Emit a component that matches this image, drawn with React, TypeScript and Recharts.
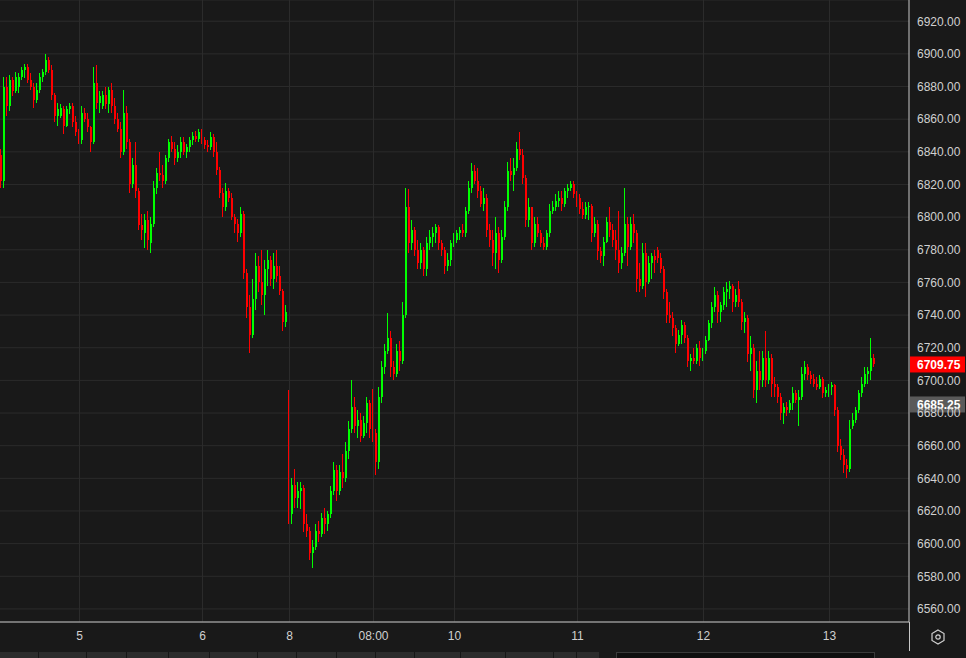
import React from 'react';
import { ComposedChart, Bar, XAxis, YAxis, CartesianGrid, ReferenceLine } from 'recharts';

type C = [number, number, number, number]; // open, high, low, close

const day4: C[] = [
  [6838,6842,6818,6822],[6822,6886,6818,6880],[6880,6886,6862,6868],[6868,6887,6865,6884],[6884,6886,6874,6877],
  [6877,6889,6876,6886],[6880,6888,6876,6886],[6886,6892,6884,6890],[6890,6894,6885,6892],[6892,6894,6882,6884],
  [6884,6888,6878,6880],[6880,6882,6867,6872],[6872,6882,6870,6878],[6878,6888,6876,6886],[6886,6891,6883,6889],
  [6889,6900,6887,6896],[6896,6898,6888,6890],[6890,6893,6872,6875],[6875,6876,6858,6862],[6862,6870,6856,6866],
  [6862,6869,6861,6867],[6866,6868,6851,6856],[6856,6868,6855,6866],[6866,6870,6863,6868],[6868,6870,6855,6858],
  [6858,6862,6850,6852],
];
const day5: C[] = [
  [6852,6854,6845,6847],[6847,6868,6845,6864],[6864,6867,6858,6860],[6860,6864,6852,6855],[6855,6856,6840,6846],
  [6846,6892,6845,6882],[6882,6893,6866,6870],[6870,6877,6864,6874],[6868,6877,6866,6875],[6875,6880,6866,6869],
  [6869,6880,6864,6878],[6878,6882,6864,6868],[6868,6873,6857,6860],[6860,6864,6852,6854],[6854,6858,6836,6840],
  [6840,6878,6838,6864],[6864,6868,6842,6846],[6846,6848,6815,6820],[6820,6836,6818,6832],[6832,6846,6812,6816],
  [6816,6818,6792,6795],[6795,6802,6786,6792],[6790,6802,6781,6798],[6798,6804,6780,6786],[6784,6800,6778,6796],
  [6796,6822,6794,6818],[6818,6830,6814,6827],[6827,6840,6822,6826],[6826,6832,6818,6822],[6822,6838,6820,6836],
  [6836,6848,6834,6846],[6846,6850,6840,6842],[6842,6846,6832,6836],[6836,6844,6834,6840],[6840,6849,6836,6846],
  [6846,6849,6838,6840],[6840,6845,6836,6843],[6843,6849,6840,6847],[6847,6852,6844,6850],[6850,6853,6846,6848],
  [6848,6854,6846,6852],
];
const day6: C[] = [
  [6852,6854,6845,6847],[6847,6849,6842,6844],[6844,6847,6840,6843],[6843,6852,6841,6849],[6849,6851,6837,6840],
  [6840,6846,6826,6829],[6829,6831,6812,6815],[6815,6818,6800,6806],[6806,6821,6804,6816],[6816,6818,6809,6812],
  [6812,6815,6798,6800],[6800,6802,6790,6796],[6796,6799,6785,6790],[6790,6806,6788,6802],[6802,6804,6762,6766],
  [6766,6768,6738,6745],[6745,6752,6717,6728],[6728,6762,6726,6750],[6750,6778,6743,6770],[6770,6776,6754,6760],
  [6760,6780,6746,6752],[6752,6774,6740,6768],[6768,6780,6758,6774],[6774,6776,6758,6762],[6762,6778,6756,6770],
  [6770,6780,6760,6764],[6764,6770,6752,6755],[6755,6756,6730,6736],[6736,6746,6733,6742],
];
const day8: C[] = [
  [6692,6694,6612,6618],[6618,6640,6612,6636],[6636,6646,6622,6628],[6628,6638,6622,6632],[6632,6638,6621,6634],
  [6634,6636,6607,6612],[6612,6618,6604,6608],[6608,6610,6590,6594],[6594,6602,6585,6598],[6598,6612,6596,6608],
  [6608,6614,6601,6606],[6606,6619,6604,6616],[6616,6622,6606,6612],[6612,6620,6608,6618],[6618,6635,6616,6632],
  [6632,6650,6630,6645],[6645,6648,6626,6632],[6632,6648,6630,6644],[6644,6655,6634,6640],[6640,6662,6638,6657],
  [6657,6675,6652,6670],[6670,6700,6668,6684],[6684,6690,6668,6672],[6672,6682,6665,6676],[6676,6680,6662,6666],
  [6666,6678,6665,6674],[6674,6690,6668,6686],[6686,6688,6665,6670],
];
const day8Morning: C[] = [
  [6670,6695,6662,6668],[6668,6670,6642,6650],[6650,6696,6646,6690],[6690,6712,6686,6708],[6708,6722,6704,6718],
  [6718,6741,6716,6726],[6726,6730,6702,6708],[6708,6712,6700,6704],[6704,6722,6702,6718],[6718,6724,6706,6712],
  [6712,6748,6710,6740],[6740,6818,6738,6806],[6806,6817,6778,6784],[6784,6798,6780,6792],[6792,6794,6776,6780],
  [6780,6786,6768,6772],[6772,6784,6768,6780],[6780,6782,6764,6768],[6768,6788,6764,6784],[6784,6792,6780,6788],
  [6788,6794,6782,6790],[6790,6796,6784,6794],[6794,6795,6780,6784],[6784,6786,6776,6780],[6780,6782,6765,6770],
  [6770,6778,6767,6774],[6774,6786,6770,6784],
];
const day10: C[] = [
  [6784,6790,6782,6786],[6786,6792,6784,6790],[6790,6794,6786,6792],[6792,6796,6788,6790],[6790,6806,6788,6804],
  [6804,6822,6802,6818],[6818,6833,6815,6828],[6828,6832,6820,6822],[6822,6830,6812,6816],[6816,6819,6806,6808],
  [6808,6818,6804,6812],[6812,6814,6788,6792],[6792,6796,6782,6786],[6786,6792,6770,6778],[6778,6800,6768,6790],
  [6790,6794,6766,6774],[6774,6792,6772,6788],[6788,6810,6786,6806],[6806,6834,6804,6828],[6828,6836,6822,6826],
  [6826,6836,6816,6830],[6830,6846,6828,6842],[6842,6852,6835,6838],[6838,6842,6820,6824],[6824,6826,6794,6798],
  [6798,6812,6794,6806],[6806,6806,6780,6784],[6784,6800,6782,6796],[6796,6800,6788,6790],[6790,6792,6782,6784],
  [6784,6788,6780,6782],[6782,6792,6780,6790],[6790,6808,6788,6804],[6804,6810,6802,6806],[6806,6814,6804,6810],
  [6810,6816,6806,6812],[6812,6816,6804,6808],[6808,6818,6806,6816],[6816,6820,6812,6818],[6818,6822,6816,6820],
  [6820,6822,6812,6814],
];
const day11: C[] = [
  [6814,6816,6806,6808],[6812,6814,6802,6805],[6805,6809,6799,6801],[6801,6809,6799,6806],[6806,6809,6798,6807],
  [6807,6808,6785,6790],[6790,6800,6788,6796],[6796,6798,6774,6779],[6779,6782,6772,6776],[6776,6788,6770,6785],
  [6785,6800,6784,6797],[6797,6806,6788,6792],[6792,6796,6782,6786],[6786,6792,6774,6780],[6780,6804,6766,6772],
  [6772,6782,6768,6778],[6778,6818,6776,6796],[6796,6800,6770,6782],[6782,6800,6780,6796],[6796,6802,6784,6790],
  [6790,6792,6754,6762],[6762,6772,6754,6758],[6758,6784,6756,6778],[6778,6784,6751,6760],[6760,6776,6759,6772],
  [6772,6778,6762,6776],[6776,6780,6766,6774],[6780,6782,6772,6775],[6775,6778,6766,6768],[6768,6770,6750,6754],
  [6754,6756,6735,6740],[6740,6748,6735,6738],[6738,6742,6727,6732],[6732,6734,6717,6722],[6722,6731,6721,6728],
  [6728,6737,6722,6734],[6734,6736,6723,6726],[6726,6728,6708,6712],[6712,6716,6706,6714],[6714,6720,6710,6712],
  [6712,6722,6710,6720],[6720,6724,6709,6714],
];
const day12: C[] = [
  [6714,6720,6712,6718],[6718,6727,6716,6725],[6725,6737,6724,6735],[6735,6748,6732,6745],[6745,6757,6742,6752],
  [6752,6755,6735,6742],[6742,6748,6736,6746],[6746,6757,6743,6754],[6754,6760,6745,6756],[6756,6761,6750,6758],
  [6758,6759,6742,6748],[6748,6756,6745,6752],[6756,6761,6745,6748],[6748,6750,6731,6736],[6736,6742,6729,6738],
  [6738,6740,6711,6716],[6716,6727,6706,6720],[6720,6722,6689,6694],[6694,6712,6686,6706],[6706,6718,6694,6700],
  [6700,6718,6696,6714],[6714,6730,6696,6700],[6700,6718,6698,6714],[6714,6716,6690,6698],[6698,6702,6690,6696],
  [6696,6698,6686,6690],[6690,6692,6676,6680],[6680,6686,6673,6684],[6684,6687,6678,6682],[6682,6688,6680,6686],
  [6686,6696,6682,6692],[6692,6694,6686,6688],[6688,6694,6672,6690],[6690,6708,6688,6704],[6704,6712,6700,6708],
  [6708,6710,6700,6703],[6703,6706,6698,6701],[6701,6704,6696,6698],[6698,6702,6694,6696],[6696,6703,6695,6701],
  [6701,6702,6689,6692],[6692,6696,6690,6694],
];
const day13: C[] = [
  [6694,6698,6690,6696],[6696,6699,6691,6697],[6697,6698,6678,6682],[6682,6684,6656,6660],[6660,6664,6651,6654],
  [6654,6658,6643,6648],[6648,6652,6640,6646],[6646,6676,6644,6670],[6672,6680,6670,6676],[6676,6684,6674,6682],
  [6682,6694,6680,6692],[6692,6702,6690,6698],[6698,6708,6696,6704],[6704,6708,6698,6706],[6706,6726,6700,6714],
  [6714,6716,6708,6709.75],
];

const sessions: { label: string; candles: C[] }[] = [
  { label: '', candles: day4 },
  { label: '5', candles: day5 },
  { label: '6', candles: day6 },
  { label: '8', candles: day8 },
  { label: '08:00', candles: day8Morning },
  { label: '10', candles: day10 },
  { label: '11', candles: day11 },
  { label: '12', candles: day12 },
  { label: '13', candles: day13 },
];

const priceTicks = [6560, 6580, 6600, 6620, 6640, 6660, 6680, 6700, 6720, 6740, 6760, 6780, 6800, 6820, 6840, 6860, 6880, 6900, 6920];
const priceDomain: [number, number] = [6552, 6933];
const lastPrice = 6709.75;
const markPrice = 6685.25;
const priceTags = [
  { value: markPrice, bg: '#5a5a5a' },
  { value: lastPrice, bg: '#ff0000' },
];
const emptySlotsAfter = 11;

const UP = '#00ff00';
const DOWN = '#ff0000';
const BG = '#191919';
const GRID = '#2b2b2b';
const AXIS = '#c8c8c8';
const TEXT = '#d0d0d0';
const FONT = '"Liberation Sans", Arial, sans-serif';

type Row = { slot: number; o?: number; h?: number; l?: number; c?: number; range: [number, number] | null };
const rows: Row[] = [];
const tickLabels: Record<number, string> = {};
{
  let slot = 0;
  sessions.forEach((s) => {
    if (s.label) tickLabels[slot] = s.label;
    s.candles.forEach(([o, h, l, c]) => {
      rows.push({ slot, o, h, l, c, range: [l, h] });
      slot++;
    });
  });
  for (let k = 0; k < emptySlotsAfter; k++) {
    rows.push({ slot, range: null });
    slot++;
  }
}
const labelSlots = Object.keys(tickLabels).map(Number);

const Candle = (props: any) => {
  const { x, y, height, payload } = props;
  if (!payload || payload.range == null || x == null || y == null) return <g />;
  const { o, h, l, c } = payload;
  const span = h - l;
  const k = span > 0 ? height / span : 0;
  const yO = y + (h - o) * k;
  const yC = y + (h - c) * k;
  const top = Math.min(yO, yC);
  const bh = Math.max(1, Math.abs(yO - yC));
  const color = c >= o ? UP : DOWN;
  const xr = Math.round(x);
  return (
    <g shapeRendering="crispEdges">
      <rect x={xr} y={y} width={1} height={Math.max(1, height)} fill={color} />
      <rect x={xr} y={top} width={2} height={bh} fill={color} />
    </g>
  );
};

const XTick = (props: any) => {
  const { x, y, payload } = props;
  const label = tickLabels[payload?.value];
  if (!label) return <g />;
  return (
    <text x={x} y={y} dy={18} textAnchor="middle" fill={TEXT} fontSize={12} fontFamily={FONT}>
      {label}
    </text>
  );
};

const YTick = (props: any) => {
  const { x, y, payload } = props;
  return (
    <text x={x} y={y} dy="0.36em" textAnchor="start" fill={TEXT} fontSize={12} fontFamily={FONT}>
      {Number(payload.value).toFixed(2)}
    </text>
  );
};

// Price tags rendered as the axis label (drawn after the tick labels, so they sit on top)
const PriceTags = (p: any) => {
  const vb = p.viewBox || {};
  const ax = vb.x ?? 0;
  const ay = vb.y ?? 0;
  const ah = vb.height ?? 0;
  const [lo, hi] = priceDomain;
  return (
    <g>
      {priceTags.map((t) => {
        const yy = ay + ((hi - t.value) / (hi - lo)) * ah;
        return (
          <g key={t.value}>
            <rect x={ax + 1} y={yy - 8} width={55} height={16} fill={t.bg} />
            <text x={ax + 8} y={yy} dy="0.36em" fill="#ffffff" fontSize={12} fontWeight="bold" fontFamily={FONT}>
              {t.value.toFixed(2)}
            </text>
          </g>
        );
      })}
    </g>
  );
};

export default function App() {
  return (
    <div style={{ position: 'fixed', left: 0, top: 0, width: 966, height: 658, background: BG, overflow: 'hidden' }}>
      <ComposedChart
        width={966}
        height={658}
        data={rows}
        margin={{ top: 0, right: 0, bottom: 0, left: 0 }}
        barCategoryGap={0}
        barGap={0}
      >
        <CartesianGrid stroke={GRID} vertical={false} />
        {labelSlots.map((s) => (
          <ReferenceLine key={'v' + s} x={s} stroke={GRID} strokeWidth={1} />
        ))}
        <XAxis
          dataKey="slot"
          type="category"
          interval={0}
          height={36}
          tickLine={false}
          tickSize={0}
          tickMargin={0}
          axisLine={{ stroke: AXIS }}
          tick={<XTick />}
        />
        <YAxis
          orientation="right"
          width={57}
          domain={priceDomain}
          ticks={priceTicks}
          allowDataOverflow
          interval={0}
          tickLine={false}
          tickSize={0}
          tickMargin={8}
          axisLine={{ stroke: AXIS }}
          tick={<YTick />}
          label={(p: any) => <PriceTags {...p} />}
        />
        <Bar dataKey="range" isAnimationActive={false} shape={<Candle />} />
      </ComposedChart>
      <div style={{ position: 'absolute', left: 909, top: 622, width: 1, height: 29, background: AXIS }} />
      <svg style={{ position: 'absolute', left: 930, top: 629 }} width={16} height={16}>
        <polygon points="8,1 14,4.5 14,11.5 8,15 2,11.5 2,4.5" fill="none" stroke={TEXT} strokeWidth={1.2} />
        <circle cx={8} cy={8} r={2.2} fill="none" stroke={TEXT} strokeWidth={1.2} />
      </svg>
      <div style={{ position: 'absolute', left: 0, top: 652, width: 599, height: 6, background: '#2c2c2c' }} />
      {[38, 86, 126, 168, 209, 257, 296, 336, 375, 414, 460, 505, 553, 576].map((lx) => (
        <div key={lx} style={{ position: 'absolute', left: lx, top: 652, width: 1, height: 6, background: '#161616' }} />
      ))}
      <div style={{ position: 'absolute', left: 616, top: 652, width: 259, height: 6, background: '#0f0f0f', borderTop: '1px solid #3a3a3a', borderLeft: '1px solid #3a3a3a', borderRight: '1px solid #3a3a3a', boxSizing: 'border-box' }} />
    </div>
  );
}
